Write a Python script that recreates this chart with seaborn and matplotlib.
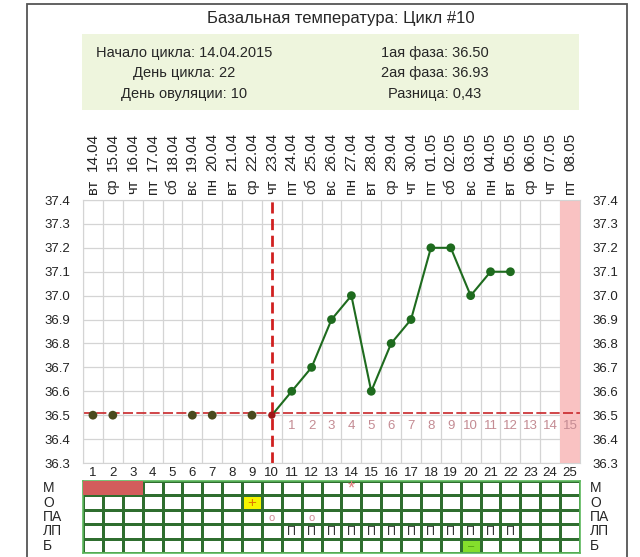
import numpy as np
import pandas as pd
import matplotlib.pyplot as plt
import matplotlib.transforms as mtransforms
from matplotlib.colors import ListedColormap
from matplotlib.patches import Rectangle
import seaborn as sns

sns.set_style("white")
plt.rcParams['font.family'] = ['Liberation Sans', 'DejaVu Sans']

# --- data ---
days = list(range(1, 26))
dates = ["14.04", "15.04", "16.04", "17.04", "18.04", "19.04", "20.04", "21.04", "22.04",
         "23.04", "24.04", "25.04", "26.04", "27.04", "28.04", "29.04", "30.04", "01.05",
         "02.05", "03.05", "04.05", "05.05", "06.05", "07.05", "08.05"]
weekdays = ["вт", "ср", "чт", "пт", "сб", "вс", "пн", "вт", "ср", "чт", "пт", "сб", "вс",
            "пн", "вт", "ср", "чт", "пт", "сб", "вс", "пн", "вт", "ср", "чт", "пт"]

phase1_days = [1, 2, 6, 7, 9]
phase1_temps = [36.5, 36.5, 36.5, 36.5, 36.5]
phase2_days = [10, 11, 12, 13, 14, 15, 16, 17, 18, 19, 20, 21, 22]
phase2_temps = [36.5, 36.6, 36.7, 36.9, 37.0, 36.6, 36.8, 36.9, 37.2, 37.2, 37.0, 37.1, 37.1]

ovulation_day = 10
cover_line = 36.51
luteal_numbers = list(range(1, 16))   # shown under the cover line from day 11
expected_period_day = 25

row_labels = ["М", "О", "ПА", "ЛП", "Б"]
menses_days = [1, 2, 3]
ovul_test_day = 9
preg_test_day = 20
star_days = [14]
pa_days = [10, 12]
lp_days = list(range(11, 23))

info_left = ["Начало цикла: 14.04.2015", "День цикла: 22", "День овуляции: 10"]
info_right = ["1ая фаза: 36.50", "2ая фаза: 36.93", "Разница: 0,43"]

W, H = 640, 557
fig = plt.figure(figsize=(W / 100, H / 100), dpi=100)

# outer frame and info box
fig.patches.append(Rectangle((27 / W, -0.05), 600 / W, 1 - 4 / H + 0.05, transform=fig.transFigure,
                             fill=False, edgecolor='#555555', lw=1.3))
fig.patches.append(Rectangle((82 / W, 1 - 110 / H), 497 / W, 76 / H, transform=fig.transFigure,
                             facecolor='#eef5dd', edgecolor='none'))
fig.text(341 / W, 1 - 18 / H, "Базальная температура: Цикл #10", ha='center', va='center', fontsize=12)
for i, (l, r) in enumerate(zip(info_left, info_right)):
    y = 1 - (53 + 20.5 * i) / H
    fig.text(184 / W, y, l, ha='center', va='center', fontsize=10.5)
    fig.text(435 / W, y, r, ha='center', va='center', fontsize=10.5)

# --- temperature chart ---
ax = fig.add_axes([83 / W, 1 - 463 / H, 497 / W, 263 / H])
ax.set_xlim(0.5, 25.5)
ax.set_ylim(36.3, 37.4)
ax.set_axisbelow(True)
ax.set_xticks(days)
ax.set_xticklabels([str(d) for d in days])
ax.set_xticks(np.arange(0.5, 26, 1), minor=True)
yt = np.round(np.arange(36.3, 37.41, 0.1), 1)
ax.set_yticks(yt)
ax.set_yticklabels([f"{v:.1f}" for v in yt])
ax.grid(which='minor', axis='x', color='#d4d4d4', lw=0.9)
ax.grid(which='major', axis='y', color='#d4d4d4', lw=0.9)
ax.tick_params(which='both', length=0, labelsize=9.5, colors='#222222')
ax.tick_params(axis='y', labelright=True, pad=9)
ax.tick_params(axis='x', pad=3)
for s in ax.spines.values():
    s.set_color('#d4d4d4')

ax.axvspan(expected_period_day - 0.5, expected_period_day + 0.5, color='#f9c2c2', lw=0, zorder=1)
ax.axhline(cover_line, color='#c8262a', lw=1.2, ls=(0, (6, 2)), zorder=2)
ax.axvline(ovulation_day, color='#d02020', lw=2, ls=(0, (4, 2)), zorder=2)

for n, d in zip(luteal_numbers, range(ovulation_day + 1, 26)):
    ax.text(d, 36.455, str(n), ha='center', va='center', fontsize=9.5, color='#c48b93', zorder=3)

sns.lineplot(x=phase2_days, y=phase2_temps, ax=ax, color='#1e6b1e', lw=1.5, zorder=4)
sns.scatterplot(x=phase2_days[1:], y=phase2_temps[1:], ax=ax, color='#1e6b1e', s=40,
                edgecolor='none', zorder=5)
sns.scatterplot(x=phase1_days, y=phase1_temps, ax=ax, color='#4a4a1e', s=40,
                edgecolor='none', zorder=5)
sns.scatterplot(x=[phase2_days[0]], y=[phase2_temps[0]], ax=ax, color='#a01818', s=28,
                edgecolor='none', zorder=5)

# dates and weekdays on top
tr_top = mtransforms.blended_transform_factory(ax.transData, fig.transFigure)
for d, dt, wd in zip(days, dates, weekdays):
    ax.text(d, 1 - 171 / H, dt, rotation=90, ha='center', va='bottom', fontsize=11,
            transform=tr_top, color='#222222')
    ax.text(d, 1 - 194 / H, wd, rotation=90, ha='center', va='bottom', fontsize=10.5,
            transform=tr_top, color='#222222')

# --- marks table ---
grid = np.zeros((len(row_labels), len(days)), dtype=int)
for d in menses_days:
    grid[0, d - 1] = 1
grid[1, ovul_test_day - 1] = 2
grid[4, preg_test_day - 1] = 3
table = pd.DataFrame(grid, index=row_labels, columns=days)

tax = fig.add_axes([83 / W, 1 - 553 / H, 497 / W, 72 / H])
sns.heatmap(table, ax=tax, cmap=ListedColormap(['white', '#d35c5c', '#f6f600', '#84de2c']),
            vmin=-0.5, vmax=3.5, cbar=False, linewidths=0.8, linecolor='#2f6e2f')
# menses block is drawn as one solid bar
tax.add_patch(Rectangle((min(menses_days) - 1, 0), len(menses_days), 1,
                        facecolor='#d35c5c', edgecolor='none', zorder=3))
tax.set_xticks([])
tax.set_yticks([])
tax.set_xlabel('')
tax.set_ylabel('')
for s in tax.spines.values():
    s.set_visible(True)
    s.set_color('#5cb85c')
    s.set_linewidth(1.2)

def mark(day, row, txt, color, size=8):
    tax.text(day - 0.5, row + 0.55, txt, ha='center', va='center', fontsize=size, color=color,
             zorder=4)

for d in star_days:
    mark(d, 0, "*", '#e07c7c', 13)
mark(ovul_test_day, 1, "+", '#e07800', 11)
for d in pa_days:
    mark(d, 2, "o", '#d08a96', 8)
for d in lp_days:
    mark(d, 3, "П", '#333333', 9)
mark(preg_test_day, 4, "–", '#4a9a10', 8)

tr_rows = mtransforms.blended_transform_factory(fig.transFigure, tax.transData)
for i, lab in enumerate(row_labels):
    fig.text(43 / W, i + 0.5, lab, ha='left', va='center', fontsize=10, transform=tr_rows)
    fig.text(590 / W, i + 0.5, lab, ha='left', va='center', fontsize=10, transform=tr_rows)

fig.savefig("out.png", dpi=100)
